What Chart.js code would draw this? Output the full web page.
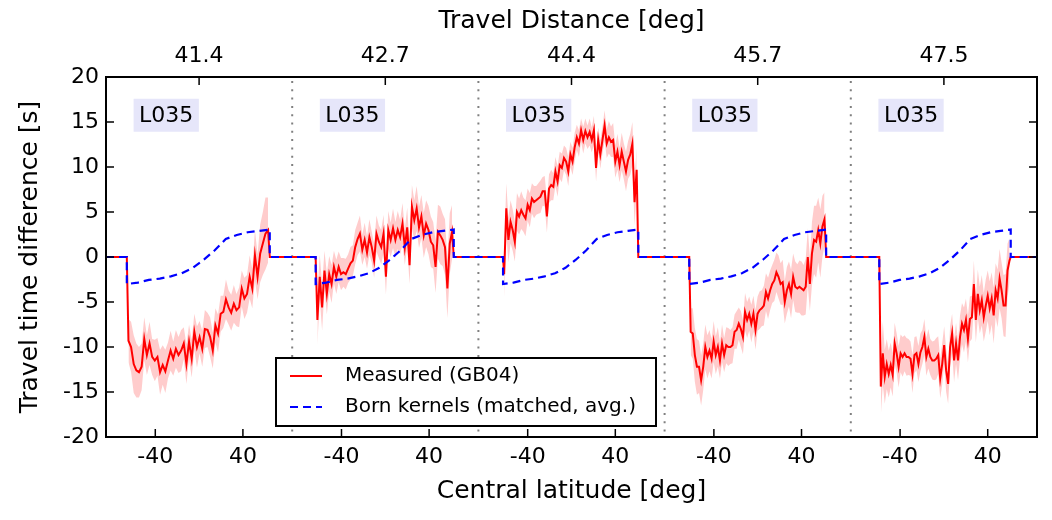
<!DOCTYPE html>
<html><head><meta charset="utf-8">
<script src="https://cdn.jsdelivr.net/npm/chart.js@4.4.0/dist/chart.umd.min.js"></script>
<style>html,body{margin:0;padding:0;background:#fff;overflow:hidden}</style>
</head><body>
<canvas id="c" width="1052" height="520"></canvas>
<script>
// ---------- data ----------
const distances = ['41.4', '42.7', '44.4', '45.7', '47.5'];
const panelLabel = 'L035';
const latTickValues = [-40, 40];
const latTickLabels = ['-40', '40'];
const panelCenters = [0, 170, 340, 510, 680];   // latitude 0 of each panel on the shared axis
const panelHalf = 85;
// latitude span of the measured samples in each panel
const dataRange = [[-64.5, 63], [-62, 61], [-61.5, 59.5], [-61.2, 61], [-57.6, 59.9]];
// latitude where the curves leave / return to zero
const zeroRange = [[-66, 64.5], [-63.6, 62.5], [-62.5, 61], [-62.5, 62.5], [-59, 61]];

const measured1 = [-9.3,-10.0,-11.9,-12.6,-12.8,-12.2,-9.1,-10.9,-9.6,-11.1,
  -11.5,-11.1,-12.8,-12.0,-12.7,-11.5,-10.4,-11.3,-10.2,-10.9,
  -10.4,-9.6,-11.9,-9.4,-11.3,-8.3,-10.0,-8.9,-10.2,-8.0,
  -8.1,-8.9,-10.4,-7.6,-8.5,-6.3,-6.1,-4.7,-5.6,-6.2,
  -5.2,-5.9,-5.6,-3.5,-4.6,-4.1,-2.2,-3.5,0.2,-2.2,
  0.4,1.5,2.6,3.0];
const error1 = [2.4,2.8,3.2,3.0,2.8,2.6,2.4,2.2,2.4,2.0,
  2.3,2.1,2.5,2.2,2.4,2.0,2.2,1.9,2.1,2.0,
  2.3,1.8,2.2,1.9,2.1,2.0,2.3,1.8,2.0,2.1,
  1.9,2.2,2.0,1.9,2.1,2.0,1.8,2.2,1.9,2.0,
  2.1,1.8,2.2,2.0,2.3,2.1,2.4,2.2,2.8,2.5,
  3.2,3.5,4.0,3.6];

const measured2 = [-7.0,-2.2,-5.6,-1.5,-4.1,-1.9,-3.0,-1.1,-2.2,-1.1,
  -1.9,-1.7,-1.9,-1.3,-0.7,-0.4,1.1,2.0,2.6,0.8,
  1.9,0.5,2.2,1.1,-0.4,2.6,1.7,1.1,2.6,-2.2,
  3.0,1.9,3.2,1.9,3.0,2.2,3.7,1.1,3.3,-0.9,
  5.6,4.1,5.4,3.3,4.5,2.4,3.7,3.0,1.7,1.3,
  -1.1,2.8,2.4,1.9,1.1,-3.5,1.5,2.8];
const error2 = [2.8,2.5,2.6,2.2,2.3,2.0,2.1,1.8,1.9,1.7,
  1.8,1.6,1.7,1.6,1.8,1.7,1.9,1.8,2.0,1.7,
  1.9,1.8,2.0,1.7,1.9,2.0,1.8,1.9,2.1,2.0,
  2.1,1.9,2.2,2.0,2.1,1.9,2.3,2.0,2.2,2.1,
  2.4,2.2,2.5,2.3,2.4,2.5,2.6,2.7,2.8,2.6,
  2.9,3.0,3.2,2.9,3.1,3.3,3.4,3.0];

const measured3 = [-1.9,5.4,1.9,3.9,3.0,1.7,5.0,4.5,5.2,4.7,
  4.3,5.8,5.2,6.5,6.1,6.3,6.5,6.7,7.3,7.3,
  4.5,7.6,8.0,7.8,9.5,8.4,10.2,9.9,11.0,10.6,
  9.5,11.4,10.6,12.2,13.3,12.6,14.1,13.0,14.0,13.3,
  13.9,13.0,14.1,9.9,13.0,11.4,13.0,14.6,12.6,13.3,
  12.8,13.0,10.6,11.7,10.2,11.7,10.6,9.5,10.8,11.4,
  12.6,6.1,9.7];
const error3 = [2.6,2.8,2.5,2.4,2.3,2.2,2.1,2.0,2.1,1.9,
  2.0,1.8,1.9,1.7,1.8,1.6,1.7,1.8,1.6,1.7,
  1.8,1.6,1.7,1.5,1.6,1.7,1.5,1.6,1.4,1.5,
  1.6,1.4,1.5,1.6,1.4,1.5,1.3,1.5,1.4,1.3,
  1.5,1.4,1.6,1.5,1.4,1.6,1.5,1.7,1.6,1.8,
  1.7,1.9,1.8,2.0,1.9,2.1,2.0,2.2,2.1,2.3,
  2.4,2.6,2.5];

const measured4 = [-8.3,-8.5,-10.9,-12.2,-12.2,-13.7,-12.2,-10.0,-11.1,-10.4,
  -11.3,-9.4,-10.9,-10.0,-11.5,-9.6,-10.9,-9.8,-10.0,-10.0,
  -9.8,-8.3,-8.1,-7.4,-8.0,-8.9,-6.1,-7.0,-6.3,-7.4,
  -6.3,-8.1,-6.3,-5.9,-5.7,-5.4,-3.9,-4.6,-3.7,-3.0,
  -2.6,-1.7,-2.2,-3.0,-2.8,-5.0,-3.7,-3.0,-4.1,-2.2,
  -3.3,-3.5,-3.3,-3.5,-3.7,-3.3,0.0,-3.0,0.4,1.9,
  1.7,3.0,1.5,3.4,4.2];
const error4 = [2.6,2.8,3.0,3.1,2.9,2.8,2.6,2.5,2.4,2.3,
  2.2,2.3,2.1,2.2,2.0,2.1,1.9,2.0,2.1,1.9,
  2.0,1.9,2.1,1.8,2.0,1.9,2.1,2.0,1.9,2.1,
  2.0,2.2,1.9,2.1,2.0,2.2,2.1,2.3,2.2,2.1,
  2.3,2.2,2.4,2.3,2.5,2.4,2.6,2.5,2.7,2.6,
  2.8,2.7,2.9,3.0,2.8,3.1,3.2,3.0,3.5,3.8,
  4.0,3.6,3.8,3.4,3.0];

const measured5 = [-14.4,-10.7,-13.3,-11.9,-13.0,-12.0,-13.1,-9.6,-10.7,-12.2,
  -10.7,-11.1,-10.7,-11.1,-11.1,-11.3,-13.0,-10.9,-10.7,-11.9,
  -10.6,-10.0,-8.9,-11.1,-10.2,-11.1,-11.5,-11.5,-11.3,-10.9,
  -13.5,-11.9,-9.8,-12.6,-14.1,-10.0,-8.5,-11.5,-9.6,-11.5,
  -8.9,-7.4,-8.1,-7.0,-9.1,-6.9,-6.7,-3.0,-7.0,-4.1,
  -5.9,-4.8,-6.7,-5.4,-4.3,-5.7,-4.6,-6.5,-3.7,-4.6,
  -2.4,-3.7,-5.4,-5.4,-1.5,-0.4];
const error5 = [3.2,3.5,3.0,2.8,2.6,2.5,2.4,2.3,2.2,2.3,
  2.1,2.2,2.0,2.1,2.0,1.9,2.1,2.0,1.9,2.0,
  2.1,1.9,2.0,2.1,2.2,2.0,2.1,2.2,2.3,2.1,
  2.2,2.3,2.1,2.4,2.2,2.3,2.2,2.4,2.3,2.2,
  2.4,2.3,2.5,2.4,2.6,2.5,2.4,2.6,2.5,2.7,
  2.6,2.8,2.7,2.9,2.8,3.0,2.9,3.1,3.0,3.2,
  3.3,3.1,3.4,3.5,3.0,2.5];

// Born-kernel prediction (same in every panel), evenly spaced across the panel's latitude span
const bornKernel = [-3.0,-2.85,-2.55,-2.4,-2.15,-1.8,-1.2,-0.3,0.75,2.0,2.45,2.75,2.9,3.05];

const measured = [measured1, measured2, measured3, measured4, measured5];
const errors = [error1, error2, error3, error4, error5];

// ---------- build datasets ----------
const FONT = "'DejaVu Sans', sans-serif";
const redPts = [{x: -panelHalf, y: 0}];
const bluePts = [{x: -panelHalf, y: 0}];
const bands = [];
panelCenters.forEach((c, p) => {
  const vals = measured[p], errs = errors[p];
  const [lo, hi] = dataRange[p];
  const [zs, ze] = zeroRange[p];
  const up = [], dn = [];
  redPts.push({x: c + zs, y: 0});
  vals.forEach((v, i) => {
    const lat = lo + i * (hi - lo) / (vals.length - 1);
    redPts.push({x: c + lat, y: v});
    up.push({x: c + lat, y: v + errs[i]});
    dn.push({x: c + lat, y: v - errs[i]});
  });
  redPts.push({x: c + ze, y: 0});
  bluePts.push({x: c + zs, y: 0});
  bornKernel.forEach((v, i) => {
    const lat = zs + i * (ze - zs) / (bornKernel.length - 1);
    bluePts.push({x: c + lat, y: v});
  });
  bluePts.push({x: c + ze, y: 0});
  bands.push({up, dn});
});
redPts.push({x: panelCenters[4] + panelHalf, y: 0});
bluePts.push({x: panelCenters[4] + panelHalf, y: 0});

const datasets = [
  {label: 'Born kernels (matched, avg.)', data: bluePts, borderColor: '#0000ff', borderWidth: 2.2,
   borderDash: [8, 5], pointRadius: 0, fill: false, tension: 0},
  {label: 'Measured (GB04)', data: redPts, borderColor: '#ff0000', borderWidth: 2,
   pointRadius: 0, fill: false, tension: 0}
];
bands.forEach(b => {
  datasets.push({data: b.up, borderWidth: 0, pointRadius: 0, fill: '+1',
    backgroundColor: 'rgba(255,0,0,0.2)', borderColor: 'rgba(0,0,0,0)'});
  datasets.push({data: b.dn, borderWidth: 0, pointRadius: 0, fill: false,
    borderColor: 'rgba(0,0,0,0)'});
});

// ---------- decorations ----------
const deco = {
  id: 'deco',
  beforeDatasetsDraw(chart) {
    const {ctx, chartArea: a, scales: {x, y}} = chart;
    ctx.save();
    // dotted separators
    ctx.strokeStyle = '#808080'; ctx.lineWidth = 2; ctx.setLineDash([2, 6.3]);
    panelCenters.slice(1).forEach(c => {
      const px = x.getPixelForValue(c - panelHalf);
      ctx.beginPath(); ctx.moveTo(px, a.top + 4); ctx.lineTo(px, a.bottom); ctx.stroke();
    });
    ctx.setLineDash([]);
    // panel labels
    ctx.font = '22px ' + FONT;
    ctx.textAlign = 'center'; ctx.textBaseline = 'middle';
    panelCenters.forEach(c => {
      const cx = x.getPixelForValue(c - 30), cy = y.getPixelForValue(15.75);
      const w = ctx.measureText(panelLabel).width + 11, h = 33;
      ctx.fillStyle = 'rgb(230,230,250)';
      ctx.fillRect(cx - w / 2, cy - h / 2, w, h);
      ctx.fillStyle = '#000';
      ctx.fillText(panelLabel, cx, cy + 1);
    });
    ctx.restore();
  },
  afterDatasetsDraw(chart) {
    const {ctx, chartArea: a, scales: {x, y}} = chart;
    ctx.save();
    ctx.strokeStyle = '#000'; ctx.lineWidth = 1.5;
    const T = 8;
    [-15, -10, -5, 0, 5, 10, 15].forEach(v => {
      const py = y.getPixelForValue(v);
      ctx.beginPath(); ctx.moveTo(a.left, py); ctx.lineTo(a.left + T, py); ctx.stroke();
      ctx.beginPath(); ctx.moveTo(a.right, py); ctx.lineTo(a.right - T, py); ctx.stroke();
    });
    panelCenters.forEach(c => {
      latTickValues.forEach(t => {
        const px = x.getPixelForValue(c + t);
        ctx.beginPath(); ctx.moveTo(px, a.bottom); ctx.lineTo(px, a.bottom - T); ctx.stroke();
      });
      const px = x.getPixelForValue(c);
      ctx.beginPath(); ctx.moveTo(px, a.top); ctx.lineTo(px, a.top + T); ctx.stroke();
    });
    // frame
    ctx.lineWidth = 2;
    ctx.strokeRect(a.left, a.top, a.right - a.left, a.bottom - a.top);
    // legend
    const L = a.left + 170, TT = a.bottom - 79, W = 380, H = 68;
    ctx.fillStyle = '#fff'; ctx.fillRect(L, TT, W, H);
    ctx.lineWidth = 2; ctx.strokeStyle = '#000'; ctx.strokeRect(L, TT, W, H);
    const rows = [{y: TT + 18, ds: datasets[1]}, {y: TT + 49, ds: datasets[0]}];
    ctx.font = '20px ' + FONT; ctx.textAlign = 'left'; ctx.textBaseline = 'middle';
    rows.forEach(r => {
      ctx.strokeStyle = r.ds.borderColor; ctx.lineWidth = r.ds.borderWidth;
      ctx.setLineDash(r.ds.borderDash || []);
      ctx.beginPath(); ctx.moveTo(L + 14, r.y); ctx.lineTo(L + 46, r.y); ctx.stroke();
      ctx.setLineDash([]);
      ctx.fillStyle = '#000'; ctx.fillText(r.ds.label, L + 69, r.y);
    });
    ctx.restore();
  }
};

new Chart(document.getElementById('c'), {
  type: 'line',
  data: {datasets},
  options: {
    responsive: false, animation: false, devicePixelRatio: 1,
    layout: {padding: {left: 0, right: 15, top: 0, bottom: 0}},
    plugins: {legend: {display: false}, tooltip: {enabled: false}},
    scales: {
      x: {
        type: 'linear', position: 'bottom', min: -panelHalf, max: panelCenters[4] + panelHalf,
        afterBuildTicks: s => { s.ticks = panelCenters.flatMap(c => latTickValues.map(t => ({value: c + t}))); },
        afterFit: s => { s.height = 83; },
        ticks: {callback: (v, i) => latTickLabels[i % 2], color: '#000', font: {family: FONT, size: 22},
                padding: 7, maxRotation: 0, autoSkip: false},
        grid: {display: false, drawTicks: false}, border: {display: false},
        title: {display: true, text: 'Central latitude [deg]', color: '#000',
                font: {family: FONT, size: 25}, padding: {top: 0, bottom: 14}}
      },
      x2: {
        type: 'linear', position: 'top', min: -panelHalf, max: panelCenters[4] + panelHalf,
        afterBuildTicks: s => { s.ticks = panelCenters.map(c => ({value: c})); },
        afterFit: s => { s.height = 77; },
        ticks: {callback: (v, i) => distances[i], color: '#000', font: {family: FONT, size: 22},
                padding: 8, maxRotation: 0, autoSkip: false},
        grid: {display: false, drawTicks: false}, border: {display: false},
        title: {display: true, text: 'Travel Distance [deg]', color: '#000',
                font: {family: FONT, size: 25}, padding: {top: 6, bottom: 0}}
      },
      y: {
        type: 'linear', position: 'left', min: -20, max: 20,
        afterFit: s => { s.width = 106; },
        ticks: {stepSize: 5, color: '#000', font: {family: FONT, size: 22}, padding: 7},
        grid: {display: false, drawTicks: false}, border: {display: false},
        title: {display: true, text: 'Travel time difference [s]', color: '#000',
                font: {family: FONT, size: 25}, padding: {top: 15, bottom: 0}}
      }
    }
  },
  plugins: [deco]
});
</script>
</body></html>
